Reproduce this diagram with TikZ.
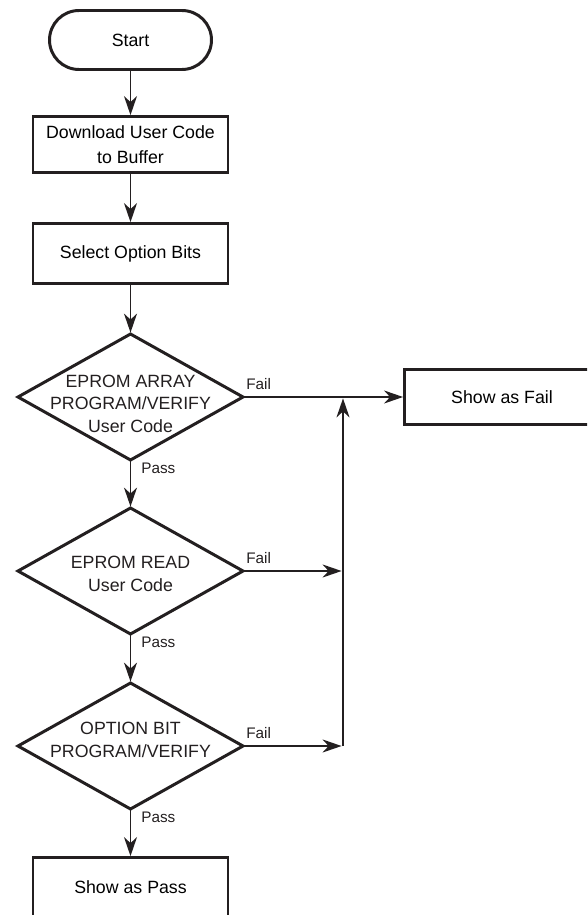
\documentclass[tikz,border=0pt]{standalone}
\usepackage{fontspec}
\setmainfont{Liberation Sans}
\usepackage{tikz}
\usetikzlibrary{arrows.meta,positioning,shapes.geometric}
\definecolor{FlowInk}{HTML}{231F20}

\begin{document}
\begin{tikzpicture}[
  node distance=9.6mm and 9.6mm,
  term/.style={draw=FlowInk,line width=1.7pt,outer sep=0pt,rounded corners=0.59cm,minimum width=3.24cm,minimum height=1.18cm,font=\fontsize{10.1}{13}\selectfont},
  proc/.style={draw=FlowInk,line width=1.7pt,outer sep=0pt,minimum width=3.9cm,minimum height=1.2cm,align=center,inner sep=0pt,font=\fontsize{10.1}{14}\selectfont},
  dec/.style={draw=FlowInk,line width=1.7pt,outer sep=0pt,diamond,minimum width=4.5cm,minimum height=2.52cm,inner sep=0pt},
  dtxt/.style={align=center,inner sep=0pt,text=FlowInk,font=\fontsize{10.1}{12.8}\selectfont},
  lbl/.style={text=FlowInk,inner sep=0.5mm,font=\fontsize{8.7}{10}\selectfont},
  arr/.style={-{Stealth[length=3.8mm,width=2.6mm,inset=1.2mm]},draw=FlowInk,line width=1pt,shorten >=0.8pt}
]
\useasboundingbox (0,0) rectangle (11.74,-18.3);
\clip (0,0) rectangle (11.74,-18.3);
\node[term] (start) at (2.61,-0.80) {Start};
\node[proc,below=0.94cm of start,minimum height=1.12cm] (dl) {Download User Code\\to Buffer};
\node[proc,below=1.02cm of dl] (sel) {Select Option Bits};
\node[dec,below=1.01cm of sel] (d1) {};
\node[dtxt,yshift=-0.13cm] (t1) at (d1) {EPROM ARRAY\\PROGRAM/VERIFY\\User Code};
\node[dec,below=0.96cm of d1] (d2) {};
\node[dtxt,yshift=-0.06cm] (t2) at (d2) {EPROM READ\\User Code};
\node[dec,below=0.98cm of d2] (d3) {};
\node[dtxt,yshift=0.12cm] (t3) at (d3) {OPTION BIT\\PROGRAM/VERIFY};
\node[proc,below=0.97cm of d3] (pass) {Show as Pass};
\node[proc,right=3.23cm of d1,minimum height=1.1cm] (fail) {Show as Fail};
% fail collector
\coordinate[right=2cm of d1.east] (j1);
\coordinate (j2) at (d2.east -| j1);
\coordinate (j3) at (d3.east -| j1);
\draw[arr] (start) -- (dl);
\draw[arr] (dl) -- (sel);
\draw[arr] (sel) -- (d1);
\draw[arr] (d1) -- node[lbl,pos=0,anchor=north west,xshift=1.5mm]{Pass} (d2);
\draw[arr] (d2) -- node[lbl,pos=0,anchor=north west,xshift=1.5mm]{Pass} (d3);
\draw[arr] (d3) -- node[lbl,pos=0,anchor=north west,xshift=1.5mm]{Pass} (pass);
\draw[arr] (d1.east) -- node[lbl,pos=0,anchor=base west,yshift=1.6mm]{Fail} (fail);
\draw[arr] (d2.east) -- node[lbl,pos=0,anchor=base west,yshift=1.6mm]{Fail} (j2);
\draw[arr] (d3.east) -- node[lbl,pos=0,anchor=base west,yshift=1.6mm]{Fail} (j3);
\draw[arr] (j3) -- (j1);
\end{tikzpicture}
\end{document}
